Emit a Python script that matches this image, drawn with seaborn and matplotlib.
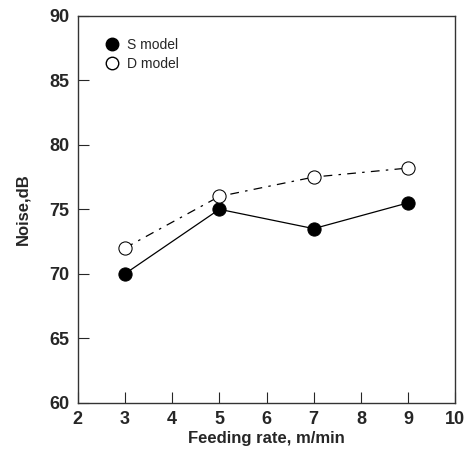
import numpy as np
import pandas as pd
import matplotlib
matplotlib.use('Agg')
import matplotlib.pyplot as plt
import seaborn as sns
from matplotlib.lines import Line2D

# data
feed_rate = [3, 5, 7, 9]
noise_s = [70.0, 75.0, 73.5, 75.5]
noise_d = [72.0, 76.0, 77.5, 78.2]

sns.set_style('ticks')
plt.rcParams['font.family'] = ['Liberation Sans', 'DejaVu Sans']

fig, ax = plt.subplots(figsize=(4.66, 4.54), dpi=100)
fig.subplots_adjust(left=0.167, right=0.977, top=0.965, bottom=0.113)

sns.lineplot(x=feed_rate, y=noise_s, ax=ax, color='black', lw=0.9,
             marker='o', markersize=9.5, markerfacecolor='black',
             markeredgecolor='black')
sns.lineplot(x=feed_rate, y=noise_d, ax=ax, color='black', lw=0.9,
             marker='o', markersize=9.5, markerfacecolor='white',
             markeredgecolor='black')
ax.lines[1].set_dashes([7, 5, 2, 5])

ax.set_xlim(2, 10)
ax.set_ylim(60, 90)
ax.set_xticks(range(2, 11))
ax.set_yticks(range(60, 91, 5))
ax.tick_params(direction='in', length=8, width=0.8, labelsize=13, pad=6)
for lab in ax.get_xticklabels() + ax.get_yticklabels():
    lab.set_fontweight('bold')
for s in ax.spines.values():
    s.set_linewidth(1.0)
    s.set_color('#333333')

ax.set_xlabel('Feeding rate, m/min', fontsize=12, fontweight='bold', labelpad=2)
ax.set_ylabel('Noise,dB', fontsize=12, fontweight='bold', labelpad=14)

handles = [
    Line2D([], [], ls='none', marker='o', markersize=9,
           markerfacecolor='black', markeredgecolor='black'),
    Line2D([], [], ls='none', marker='o', markersize=9,
           markerfacecolor='white', markeredgecolor='black'),
]
ax.legend(handles, ['S model', 'D model'], loc='upper left', frameon=False,
          fontsize=10, handletextpad=0.1, labelspacing=0.35,
          bbox_to_anchor=(0.02, 0.975))

plt.savefig('out.png', dpi=100)
